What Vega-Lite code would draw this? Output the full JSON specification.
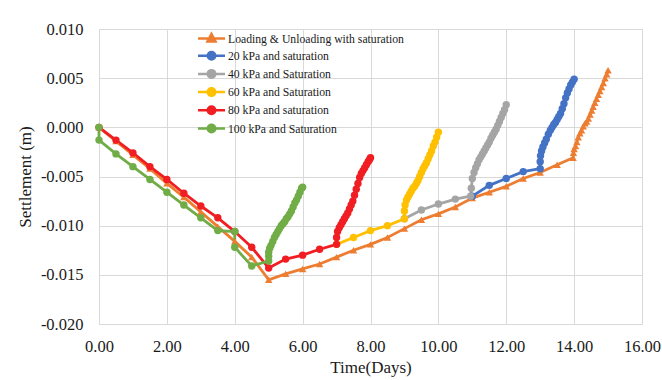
{
  "$schema": "https://vega.github.io/schema/vega-lite/v6.json",
  "width": 543,
  "height": 295,
  "autosize": {"type": "none"},
  "padding": {"left": 99, "top": 29, "right": 20, "bottom": 56},
  "background": "white",
  "config": {
    "font": "Liberation Serif, Times New Roman, DejaVu Serif, serif",
    "view": {"stroke": null},
    "axis": {"gridColor": "#d9d9d9", "gridWidth": 1, "domainColor": "#d9d9d9", "domainWidth": 1, "ticks": false, "labelFont": "Liberation Serif, Times New Roman, DejaVu Serif, serif", "labelFontSize": 16.5, "labelColor": "#1a1a1a", "titleFont": "Liberation Serif, Times New Roman, DejaVu Serif, serif", "titleFontSize": 17, "titleFontWeight": "normal", "titleColor": "#1a1a1a"}
  },
  "data": {"values": [
    {"s":"Loading & Unloading with saturation","t":0,"v":0},
    {"s":"Loading & Unloading with saturation","t":0.5,"v":-0.0014},
    {"s":"Loading & Unloading with saturation","t":1,"v":-0.0028},
    {"s":"Loading & Unloading with saturation","t":1.5,"v":-0.0042},
    {"s":"Loading & Unloading with saturation","t":2,"v":-0.0057},
    {"s":"Loading & Unloading with saturation","t":2.5,"v":-0.0071},
    {"s":"Loading & Unloading with saturation","t":3,"v":-0.0086},
    {"s":"Loading & Unloading with saturation","t":3.5,"v":-0.0101},
    {"s":"Loading & Unloading with saturation","t":4,"v":-0.0116},
    {"s":"Loading & Unloading with saturation","t":4.5,"v":-0.0132},
    {"s":"Loading & Unloading with saturation","t":5,"v":-0.0155},
    {"s":"Loading & Unloading with saturation","t":5.5,"v":-0.0149},
    {"s":"Loading & Unloading with saturation","t":6,"v":-0.0144},
    {"s":"Loading & Unloading with saturation","t":6.5,"v":-0.0139},
    {"s":"Loading & Unloading with saturation","t":7,"v":-0.0132},
    {"s":"Loading & Unloading with saturation","t":7.5,"v":-0.0125},
    {"s":"Loading & Unloading with saturation","t":8,"v":-0.0119},
    {"s":"Loading & Unloading with saturation","t":8.5,"v":-0.0112},
    {"s":"Loading & Unloading with saturation","t":9,"v":-0.0103},
    {"s":"Loading & Unloading with saturation","t":9.5,"v":-0.0094},
    {"s":"Loading & Unloading with saturation","t":10,"v":-0.0088},
    {"s":"Loading & Unloading with saturation","t":10.5,"v":-0.0081},
    {"s":"Loading & Unloading with saturation","t":11,"v":-0.0072},
    {"s":"Loading & Unloading with saturation","t":11.5,"v":-0.0066},
    {"s":"Loading & Unloading with saturation","t":12,"v":-0.006},
    {"s":"Loading & Unloading with saturation","t":12.5,"v":-0.0052},
    {"s":"Loading & Unloading with saturation","t":13,"v":-0.0046},
    {"s":"Loading & Unloading with saturation","t":13.5,"v":-0.0038},
    {"s":"Loading & Unloading with saturation","t":13.97,"v":-0.0031},
    {"s":"Loading & Unloading with saturation","t":13.98,"v":-0.0026},
    {"s":"Loading & Unloading with saturation","t":14,"v":-0.0022},
    {"s":"Loading & Unloading with saturation","t":14.04,"v":-0.0019},
    {"s":"Loading & Unloading with saturation","t":14.08,"v":-0.0015},
    {"s":"Loading & Unloading with saturation","t":14.12,"v":-0.001},
    {"s":"Loading & Unloading with saturation","t":14.17,"v":-0.0006},
    {"s":"Loading & Unloading with saturation","t":14.22,"v":-0.0003},
    {"s":"Loading & Unloading with saturation","t":14.27,"v":0.0001},
    {"s":"Loading & Unloading with saturation","t":14.32,"v":0.0004},
    {"s":"Loading & Unloading with saturation","t":14.37,"v":0.0006},
    {"s":"Loading & Unloading with saturation","t":14.42,"v":0.0009},
    {"s":"Loading & Unloading with saturation","t":14.47,"v":0.0013},
    {"s":"Loading & Unloading with saturation","t":14.52,"v":0.0017},
    {"s":"Loading & Unloading with saturation","t":14.56,"v":0.0021},
    {"s":"Loading & Unloading with saturation","t":14.61,"v":0.0025},
    {"s":"Loading & Unloading with saturation","t":14.66,"v":0.0029},
    {"s":"Loading & Unloading with saturation","t":14.71,"v":0.0033},
    {"s":"Loading & Unloading with saturation","t":14.76,"v":0.0037},
    {"s":"Loading & Unloading with saturation","t":14.81,"v":0.0041},
    {"s":"Loading & Unloading with saturation","t":14.86,"v":0.0045},
    {"s":"Loading & Unloading with saturation","t":14.91,"v":0.005},
    {"s":"Loading & Unloading with saturation","t":14.96,"v":0.0054},
    {"s":"Loading & Unloading with saturation","t":15,"v":0.0058},

    {"s":"20 kPa and saturation","t":11,"v":-0.007},
    {"s":"20 kPa and saturation","t":11.5,"v":-0.0059},
    {"s":"20 kPa and saturation","t":12,"v":-0.0052},
    {"s":"20 kPa and saturation","t":12.5,"v":-0.0045},
    {"s":"20 kPa and saturation","t":13,"v":-0.0042},
    {"s":"20 kPa and saturation","t":13,"v":-0.0035},
    {"s":"20 kPa and saturation","t":13.01,"v":-0.0029},
    {"s":"20 kPa and saturation","t":13.04,"v":-0.0024},
    {"s":"20 kPa and saturation","t":13.08,"v":-0.002},
    {"s":"20 kPa and saturation","t":13.13,"v":-0.0016},
    {"s":"20 kPa and saturation","t":13.18,"v":-0.0012},
    {"s":"20 kPa and saturation","t":13.24,"v":-0.0007},
    {"s":"20 kPa and saturation","t":13.3,"v":-0.0003},
    {"s":"20 kPa and saturation","t":13.35,"v":0},
    {"s":"20 kPa and saturation","t":13.4,"v":0.0003},
    {"s":"20 kPa and saturation","t":13.45,"v":0.0005},
    {"s":"20 kPa and saturation","t":13.5,"v":0.0008},
    {"s":"20 kPa and saturation","t":13.55,"v":0.0011},
    {"s":"20 kPa and saturation","t":13.6,"v":0.0014},
    {"s":"20 kPa and saturation","t":13.65,"v":0.0019},
    {"s":"20 kPa and saturation","t":13.7,"v":0.0024},
    {"s":"20 kPa and saturation","t":13.75,"v":0.003},
    {"s":"20 kPa and saturation","t":13.8,"v":0.0035},
    {"s":"20 kPa and saturation","t":13.85,"v":0.0039},
    {"s":"20 kPa and saturation","t":13.9,"v":0.0043},
    {"s":"20 kPa and saturation","t":13.95,"v":0.0046},
    {"s":"20 kPa and saturation","t":14,"v":0.0049},

    {"s":"40 kPa and Saturation","t":9,"v":-0.0093},
    {"s":"40 kPa and Saturation","t":9.5,"v":-0.0084},
    {"s":"40 kPa and Saturation","t":10,"v":-0.0078},
    {"s":"40 kPa and Saturation","t":10.5,"v":-0.0073},
    {"s":"40 kPa and Saturation","t":10.95,"v":-0.007},
    {"s":"40 kPa and Saturation","t":10.97,"v":-0.0062},
    {"s":"40 kPa and Saturation","t":11,"v":-0.0052},
    {"s":"40 kPa and Saturation","t":11.05,"v":-0.0046},
    {"s":"40 kPa and Saturation","t":11.1,"v":-0.0041},
    {"s":"40 kPa and Saturation","t":11.15,"v":-0.0037},
    {"s":"40 kPa and Saturation","t":11.2,"v":-0.0033},
    {"s":"40 kPa and Saturation","t":11.25,"v":-0.003},
    {"s":"40 kPa and Saturation","t":11.3,"v":-0.0027},
    {"s":"40 kPa and Saturation","t":11.35,"v":-0.0024},
    {"s":"40 kPa and Saturation","t":11.4,"v":-0.0021},
    {"s":"40 kPa and Saturation","t":11.45,"v":-0.0018},
    {"s":"40 kPa and Saturation","t":11.5,"v":-0.0015},
    {"s":"40 kPa and Saturation","t":11.55,"v":-0.0011},
    {"s":"40 kPa and Saturation","t":11.6,"v":-0.0008},
    {"s":"40 kPa and Saturation","t":11.65,"v":-0.0005},
    {"s":"40 kPa and Saturation","t":11.7,"v":-0.0002},
    {"s":"40 kPa and Saturation","t":11.75,"v":0.0002},
    {"s":"40 kPa and Saturation","t":11.8,"v":0.0006},
    {"s":"40 kPa and Saturation","t":11.85,"v":0.001},
    {"s":"40 kPa and Saturation","t":11.9,"v":0.0014},
    {"s":"40 kPa and Saturation","t":11.95,"v":0.0018},
    {"s":"40 kPa and Saturation","t":12,"v":0.0023},

    {"s":"60 kPa and Saturation","t":7,"v":-0.0119},
    {"s":"60 kPa and Saturation","t":7.5,"v":-0.0112},
    {"s":"60 kPa and Saturation","t":8,"v":-0.0105},
    {"s":"60 kPa and Saturation","t":8.5,"v":-0.01},
    {"s":"60 kPa and Saturation","t":9,"v":-0.0093},
    {"s":"60 kPa and Saturation","t":9,"v":-0.0085},
    {"s":"60 kPa and Saturation","t":9.02,"v":-0.0079},
    {"s":"60 kPa and Saturation","t":9.06,"v":-0.0074},
    {"s":"60 kPa and Saturation","t":9.1,"v":-0.0071},
    {"s":"60 kPa and Saturation","t":9.15,"v":-0.0068},
    {"s":"60 kPa and Saturation","t":9.2,"v":-0.0065},
    {"s":"60 kPa and Saturation","t":9.25,"v":-0.0062},
    {"s":"60 kPa and Saturation","t":9.3,"v":-0.006},
    {"s":"60 kPa and Saturation","t":9.35,"v":-0.0057},
    {"s":"60 kPa and Saturation","t":9.4,"v":-0.0054},
    {"s":"60 kPa and Saturation","t":9.45,"v":-0.005},
    {"s":"60 kPa and Saturation","t":9.5,"v":-0.0046},
    {"s":"60 kPa and Saturation","t":9.55,"v":-0.0042},
    {"s":"60 kPa and Saturation","t":9.6,"v":-0.0039},
    {"s":"60 kPa and Saturation","t":9.65,"v":-0.0036},
    {"s":"60 kPa and Saturation","t":9.7,"v":-0.0032},
    {"s":"60 kPa and Saturation","t":9.75,"v":-0.0028},
    {"s":"60 kPa and Saturation","t":9.8,"v":-0.0024},
    {"s":"60 kPa and Saturation","t":9.85,"v":-0.0019},
    {"s":"60 kPa and Saturation","t":9.9,"v":-0.0015},
    {"s":"60 kPa and Saturation","t":9.95,"v":-0.001},
    {"s":"60 kPa and Saturation","t":10,"v":-0.0005},

    {"s":"80 kPa and saturation","t":0,"v":0},
    {"s":"80 kPa and saturation","t":0.5,"v":-0.0013},
    {"s":"80 kPa and saturation","t":1,"v":-0.0026},
    {"s":"80 kPa and saturation","t":1.5,"v":-0.004},
    {"s":"80 kPa and saturation","t":2,"v":-0.0053},
    {"s":"80 kPa and saturation","t":2.5,"v":-0.0067},
    {"s":"80 kPa and saturation","t":3,"v":-0.008},
    {"s":"80 kPa and saturation","t":3.5,"v":-0.0092},
    {"s":"80 kPa and saturation","t":4,"v":-0.0106},
    {"s":"80 kPa and saturation","t":4.5,"v":-0.0122},
    {"s":"80 kPa and saturation","t":5,"v":-0.0143},
    {"s":"80 kPa and saturation","t":5.5,"v":-0.0134},
    {"s":"80 kPa and saturation","t":6,"v":-0.013},
    {"s":"80 kPa and saturation","t":6.5,"v":-0.0124},
    {"s":"80 kPa and saturation","t":7,"v":-0.0119},
    {"s":"80 kPa and saturation","t":7,"v":-0.0112},
    {"s":"80 kPa and saturation","t":7.03,"v":-0.0106},
    {"s":"80 kPa and saturation","t":7.08,"v":-0.0102},
    {"s":"80 kPa and saturation","t":7.13,"v":-0.0099},
    {"s":"80 kPa and saturation","t":7.18,"v":-0.0096},
    {"s":"80 kPa and saturation","t":7.23,"v":-0.0093},
    {"s":"80 kPa and saturation","t":7.28,"v":-0.009},
    {"s":"80 kPa and saturation","t":7.33,"v":-0.0087},
    {"s":"80 kPa and saturation","t":7.38,"v":-0.0083},
    {"s":"80 kPa and saturation","t":7.43,"v":-0.0079},
    {"s":"80 kPa and saturation","t":7.48,"v":-0.0075},
    {"s":"80 kPa and saturation","t":7.53,"v":-0.0069},
    {"s":"80 kPa and saturation","t":7.58,"v":-0.0063},
    {"s":"80 kPa and saturation","t":7.63,"v":-0.0057},
    {"s":"80 kPa and saturation","t":7.68,"v":-0.0051},
    {"s":"80 kPa and saturation","t":7.73,"v":-0.0047},
    {"s":"80 kPa and saturation","t":7.78,"v":-0.0044},
    {"s":"80 kPa and saturation","t":7.83,"v":-0.0041},
    {"s":"80 kPa and saturation","t":7.88,"v":-0.0038},
    {"s":"80 kPa and saturation","t":7.93,"v":-0.0035},
    {"s":"80 kPa and saturation","t":7.97,"v":-0.0033},
    {"s":"80 kPa and saturation","t":8,"v":-0.0031},

    {"s":"100 kPa and Saturation","t":0,"v":0},
    {"s":"100 kPa and Saturation","t":0,"v":-0.0013},
    {"s":"100 kPa and Saturation","t":0.5,"v":-0.0027},
    {"s":"100 kPa and Saturation","t":1,"v":-0.004},
    {"s":"100 kPa and Saturation","t":1.5,"v":-0.0053},
    {"s":"100 kPa and Saturation","t":2,"v":-0.0066},
    {"s":"100 kPa and Saturation","t":2.5,"v":-0.0079},
    {"s":"100 kPa and Saturation","t":3,"v":-0.0092},
    {"s":"100 kPa and Saturation","t":3.5,"v":-0.0105},
    {"s":"100 kPa and Saturation","t":4,"v":-0.0106},
    {"s":"100 kPa and Saturation","t":4,"v":-0.0122},
    {"s":"100 kPa and Saturation","t":4.5,"v":-0.0141},
    {"s":"100 kPa and Saturation","t":5,"v":-0.0136},
    {"s":"100 kPa and Saturation","t":5,"v":-0.0131},
    {"s":"100 kPa and Saturation","t":5,"v":-0.0127},
    {"s":"100 kPa and Saturation","t":5.03,"v":-0.0123},
    {"s":"100 kPa and Saturation","t":5.07,"v":-0.012},
    {"s":"100 kPa and Saturation","t":5.12,"v":-0.0116},
    {"s":"100 kPa and Saturation","t":5.17,"v":-0.0112},
    {"s":"100 kPa and Saturation","t":5.22,"v":-0.0109},
    {"s":"100 kPa and Saturation","t":5.27,"v":-0.0106},
    {"s":"100 kPa and Saturation","t":5.32,"v":-0.0103},
    {"s":"100 kPa and Saturation","t":5.37,"v":-0.01},
    {"s":"100 kPa and Saturation","t":5.42,"v":-0.0098},
    {"s":"100 kPa and Saturation","t":5.47,"v":-0.0096},
    {"s":"100 kPa and Saturation","t":5.52,"v":-0.0093},
    {"s":"100 kPa and Saturation","t":5.57,"v":-0.0091},
    {"s":"100 kPa and Saturation","t":5.62,"v":-0.0088},
    {"s":"100 kPa and Saturation","t":5.67,"v":-0.0085},
    {"s":"100 kPa and Saturation","t":5.72,"v":-0.0081},
    {"s":"100 kPa and Saturation","t":5.77,"v":-0.0077},
    {"s":"100 kPa and Saturation","t":5.82,"v":-0.0074},
    {"s":"100 kPa and Saturation","t":5.87,"v":-0.007},
    {"s":"100 kPa and Saturation","t":5.92,"v":-0.0066},
    {"s":"100 kPa and Saturation","t":5.97,"v":-0.0062},
    {"s":"100 kPa and Saturation","t":6,"v":-0.0061}
  ]},
  "encoding": {
    "x": {"field": "t", "type": "quantitative", "title": "Time(Days)",
      "scale": {"domain": [0, 16], "nice": false},
      "axis": {"values": [0,2,4,6,8,10,12,14,16], "format": ".2f", "labelPadding": 14, "titlePadding": 5, "labelFlush": false}},
    "y": {"field": "v", "type": "quantitative", "title": "Settlement (m)",
      "scale": {"domain": [-0.02, 0.01], "nice": false},
      "axis": {"values": [-0.02,-0.015,-0.01,-0.005,0,0.005,0.01], "labelExpr": "datum.value < 0 ? '-' + format(-datum.value, '.3f') : format(datum.value, '.3f')", "labelPadding": 16, "titlePadding": 6, "labelFlush": false}},
    "color": {"field": "s", "type": "nominal",
      "scale": {"domain": ["Loading & Unloading with saturation","20 kPa and saturation","40 kPa and Saturation","60 kPa and Saturation","80 kPa and saturation","100 kPa and Saturation"],
                "range": ["#ED7D31","#4472C4","#A5A5A5","#FFC000","#F01E23","#70AD47"]},
      "legend": {"title": null, "orient": "none", "legendX": 106, "legendY": 3, "padding": 0,
        "labelFont": "Liberation Serif, Times New Roman, DejaVu Serif, serif", "labelFontSize": 11.7, "labelColor": "#1a1a1a", "labelLimit": 0,
        "symbolSize": 100, "labelOffset": 10, "rowPadding": -0.8,
        "encode": {"symbols": {"update": {
          "shape": {"signal": "datum.value === 'Loading & Unloading with saturation' ? 'M-2.7,0H2.7M0,-0.9L0.8,0.6L-0.8,0.6Z' : 'M-2.7,0H2.7M-0.75,0A0.75,0.75 0 1,0 0.75,0A0.75,0.75 0 1,0 -0.75,0Z'"},
          "fill": {"signal": "scale('color', datum.value)"},
          "stroke": {"signal": "scale('color', datum.value)"},
          "strokeWidth": {"value": 2.5},
          "opacity": {"value": 1}
        }}}}}
  },
  "layer": [
    {"mark": {"type": "line", "strokeWidth": 2.8}, "encoding": {"order": {"value": null}}},
    {"transform": [{"filter": "datum.s === 'Loading & Unloading with saturation'"}],
     "mark": {"type": "point", "filled": true, "size": 55, "opacity": 1, "shape": "triangle-up"}},
    {"transform": [{"filter": "datum.s !== 'Loading & Unloading with saturation'"}],
     "mark": {"type": "point", "filled": true, "size": 55, "opacity": 1, "shape": "circle"}}
  ]
}
